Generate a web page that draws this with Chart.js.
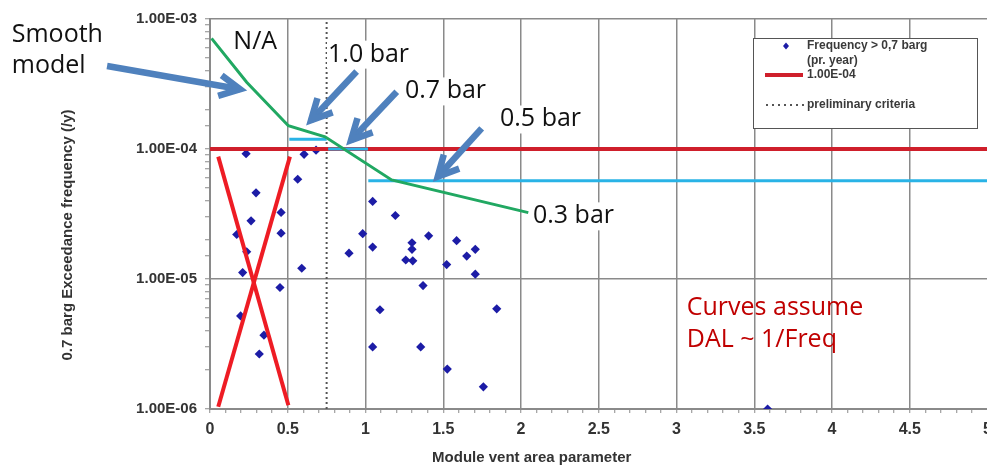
<!DOCTYPE html>
<html><head><meta charset="utf-8">
<script src="https://cdn.jsdelivr.net/npm/chart.js@4.4.1/dist/chart.umd.min.js"></script>
<style>
html,body{margin:0;padding:0;background:#fff;overflow:hidden;width:987px;height:466px}
#wrap{width:1000px;height:466px;overflow:hidden}
canvas{display:block}
</style></head>
<body><div id="wrap"><canvas id="c" width="1000" height="466"></canvas></div>
<script>
// ---------- data ----------
const xTickLabels = ['0','0.5','1','1.5','2','2.5','3','3.5','4','4.5','5'];
const yTickExps   = [-6,-5,-4,-3];
const yTickLabels = ['1.00E-06','1.00E-05','1.00E-04','1.00E-03'];

const freqX = [0.232,0.605,0.682,0.564,0.296,0.457,0.264,0.172,0.457,0.236,0.210,0.590,0.450,0.197,0.347,0.317,
               1.046,1.192,0.982,1.046,0.894,1.299,1.299,1.259,1.304,1.406,1.586,1.651,1.706,1.522,1.706,1.370,
               1.093,1.844,1.046,1.355,1.526,1.758,3.586];
const freqY = [9.2e-5,9.1e-5,9.8e-5,5.85e-5,4.6e-5,3.25e-5,2.8e-5,2.2e-5,2.25e-5,1.62e-5,1.12e-5,1.21e-5,8.6e-6,5.2e-6,3.7e-6,2.65e-6,
               3.95e-5,3.08e-5,2.23e-5,1.76e-5,1.58e-5,1.9e-5,1.69e-5,1.4e-5,1.38e-5,2.15e-5,1.97e-5,1.5e-5,1.69e-5,1.29e-5,1.09e-5,8.9e-6,
               5.8e-6,5.9e-6,3.0e-6,3.0e-6,2.03e-6,1.48e-6,1.0e-6];

const criteriaX = [0,5];
const criteriaY = [1e-4,1e-4];
const prelimX = [0.75,0.75];
const prelimY = [1e-6,1e-3];

const smoothX = [0.01,0.236,0.504,0.74,1.168,2.047];
const smoothY = [7.1e-4,3.26e-4,1.51e-4,1.24e-4,5.78e-5,3.24e-5];

const bar10X = [0.51,0.75];  const bar10Y = [1.19e-4,1.19e-4];
const bar07X = [0.76,1.016]; const bar07Y = [1.0e-4,1.0e-4];
const bar05X = [1.018,5];    const bar05Y = [5.7e-5,5.7e-5];

const naAX = [0.053,0.504]; const naAY = [8.73e-5,1.07e-6];
const naBX = [0.514,0.053]; const naBY = [8.73e-5,1.04e-6];

// annotation anchors (data units)
const noteText  = ['Smooth','model','N/A','1.0 bar','0.7 bar','0.5 bar','0.3 bar'];
const noteX     = [-1.275,-1.275,0.15,0.759,1.254,1.865,2.077];
const noteY     = [6.68e-4,3.82e-4,5.85e-4,4.70e-4,2.45e-4,1.49e-4,2.68e-5];
const noteBoxed = [false,false,false,true,true,true,true];
const redNote   = ['Curves assume','DAL ~ 1/Freq'];
const redNoteX  = [3.066,3.066];
const redNoteY  = [5.28e-6,3.01e-6];
const arrowTailX = [-0.662,0.943,1.201,1.747];
const arrowTailY = [4.35e-4,3.94e-4,2.76e-4,1.44e-4];
const arrowTipX  = [0.219,0.632,0.889,1.447];
const arrowTipY  = [2.85e-4,1.58e-4,1.11e-4,5.8e-5];

// ---------- helpers ----------
const pts = (xs,ys)=>xs.map((x,i)=>({x:x,y:ys[i]}));
const isMajorLog = v => Math.abs(Math.log10(v)-Math.round(Math.log10(v)))<1e-9;
const isHalf = v => Math.abs(v*2-Math.round(v*2))<1e-6;
const GRID='#8a8a8a';
const LABEL='#333';
const FONT='"Liberation Sans", Arial, sans-serif';

const annotPlugin = {
  id:'annot',
  afterDatasetsDraw(chart){
    const {ctx, scales:{x,y}} = chart;
    ctx.save();
    ctx.font = '25px "Open Sans", sans-serif';
    ctx.textBaseline='alphabetic';
    ctx.textAlign='left';
    noteText.forEach((t,i)=>{
      const px=x.getPixelForValue(noteX[i]), py=y.getPixelForValue(noteY[i]);
      if(noteBoxed[i]){
        const w=ctx.measureText(t).width;
        ctx.fillStyle='#fff';
        ctx.fillRect(px-1,py-21,w+4,28);
      }
      ctx.fillStyle='#111';
      ctx.fillText(t,px,py);
    });
    ctx.fillStyle='#c00000';
    redNote.forEach((t,i)=>{
      ctx.fillText(t,x.getPixelForValue(redNoteX[i]),y.getPixelForValue(redNoteY[i]));
    });
    // arrows
    ctx.strokeStyle='#4f81bd';
    ctx.lineWidth=6.5;
    ctx.lineJoin='miter';
    ctx.lineCap='butt';
    arrowTailX.forEach((_,i)=>{
      const x1=x.getPixelForValue(arrowTailX[i]), y1=y.getPixelForValue(arrowTailY[i]);
      const x2=x.getPixelForValue(arrowTipX[i]),  y2=y.getPixelForValue(arrowTipY[i]);
      const a=Math.atan2(y2-y1,x2-x1);
      const tx=x2-4*Math.cos(a), ty=y2-4*Math.sin(a);
      ctx.beginPath(); ctx.moveTo(x1,y1); ctx.lineTo(tx,ty); ctx.stroke();
      const L=23, s=0.47;
      ctx.beginPath();
      ctx.moveTo(tx-L*Math.cos(a-s),ty-L*Math.sin(a-s));
      ctx.lineTo(tx,ty);
      ctx.lineTo(tx-L*Math.cos(a+s),ty-L*Math.sin(a+s));
      ctx.stroke();
    });
    ctx.restore();
  },
  afterDraw(chart){
    const {ctx, chartArea:ca} = chart;
    const ds = chart.data.datasets;
    ctx.save();
    // legend box
    const L=ca.right-234.5, T=ca.top+19, R=ca.right-10.5, B=ca.top+109;
    ctx.fillStyle='#fff'; ctx.fillRect(L,T,R-L,B-T);
    ctx.strokeStyle='#555'; ctx.lineWidth=1; ctx.strokeRect(L+0.5,T+0.5,R-L,B-T);
    ctx.font='bold 12px '+FONT; ctx.fillStyle='#3a3a3a'; ctx.textBaseline='middle'; ctx.textAlign='left';
    const tx=L+54;
    const dx=L+33, dy=T+8;
    ctx.fillStyle=ds[0].backgroundColor;
    ctx.beginPath(); ctx.moveTo(dx,dy-3.5); ctx.lineTo(dx+3,dy); ctx.lineTo(dx,dy+3.5); ctx.lineTo(dx-3,dy); ctx.closePath(); ctx.fill();
    ctx.fillStyle='#3a3a3a';
    ctx.fillText('Frequency > 0,7 barg',tx,T+8);
    ctx.fillText('(pr. year)',tx,T+23);
    ctx.strokeStyle=ds[2].borderColor; ctx.lineWidth=4;
    ctx.beginPath(); ctx.moveTo(L+12,T+37); ctx.lineTo(L+50,T+37); ctx.stroke();
    ctx.fillText('1.00E-04',tx,T+37);
    ctx.strokeStyle=ds[1].borderColor; ctx.lineWidth=2; ctx.setLineDash([2,4]);
    ctx.beginPath(); ctx.moveTo(L+13,T+67); ctx.lineTo(L+51,T+67); ctx.stroke();
    ctx.setLineDash([]);
    ctx.fillText('preliminary criteria',tx,T+67);
    // axis titles
    ctx.fillStyle=LABEL; ctx.font='bold 15px '+FONT; ctx.textAlign='center'; ctx.textBaseline='middle';
    ctx.fillText('Module vent area parameter', ca.left+321.7, ca.bottom+48.5);
    ctx.translate(ca.left-142, ca.top+216);
    ctx.rotate(-Math.PI/2);
    ctx.fillText('0.7 barg Exceedance frequency (/y)',0,0);
    ctx.restore();
  }
};

const lineDS = (label,xs,ys,color,width,order,extra)=>Object.assign({
  label, data:pts(xs,ys), showLine:true, borderColor:color, backgroundColor:color,
  borderWidth:width, pointRadius:0, fill:false, order, tension:0
}, extra||{});

new Chart(document.getElementById('c'),{
  type:'scatter',
  data:{datasets:[
    {label:'Frequency > 0,7 barg (pr. year)', data:pts(freqX,freqY), pointStyle:'rectRot', pointRadius:4.6,
     backgroundColor:'#1c1ca6', borderColor:'#1c1ca6', borderWidth:0, order:6},
    lineDS('preliminary criteria',prelimX,prelimY,'#555',2,7,{borderDash:[2,3]}),
    lineDS('1.00E-04',criteriaX,criteriaY,'#cf1f2b',4,4),
    lineDS('N/A a',naAX,naAY,'#ee1c24',4,5),
    lineDS('N/A b',naBX,naBY,'#ee1c24',4,5),
    lineDS('1.0 bar',bar10X,bar10Y,'#29b3e6',3,3),
    lineDS('0.7 bar',bar07X,bar07Y,'#29b3e6',3,3),
    lineDS('0.5 bar',bar05X,bar05Y,'#29b3e6',3,3),
    lineDS('Smooth model',smoothX,smoothY,'#21a862',3,2)
  ]},
  options:{
    responsive:false, animation:false,
    layout:{padding:{left:0,right:12.5,top:19,bottom:0}},
    plugins:{legend:{display:false},tooltip:{enabled:false}},
    scales:{
      x:{type:'linear',min:0,max:5,
        afterFit:s=>{s.height=57;},
        border:{display:true,color:GRID,width:2},
        grid:{color:c=>isHalf(c.tick.value)?GRID:'rgba(0,0,0,0)',lineWidth:1.5,tickColor:GRID,tickWidth:1,tickLength:4},
        ticks:{stepSize:0.1,autoSkip:false,maxRotation:0,padding:7,color:LABEL,font:{family:FONT,size:16,weight:'bold'},
          callback:v=>isHalf(v)?xTickLabels[Math.round(v*2)]:''}
      },
      y:{type:'logarithmic',min:1e-6,max:1e-3,
        afterFit:s=>{s.width=210;},
        border:{display:true,color:GRID,width:2},
        grid:{color:c=>isMajorLog(c.tick.value)?GRID:'rgba(0,0,0,0)',lineWidth:1.5,tickColor:GRID,tickWidth:1,tickLength:5},
        ticks:{autoSkip:false,padding:8,color:LABEL,font:{family:FONT,size:15,weight:'bold'},
          callback:v=>{const i=yTickExps.indexOf(Math.round(Math.log10(v)));return (isMajorLog(v)&&i>=0)?yTickLabels[i]:'';}}
      }
    }
  },
  plugins:[annotPlugin]
});
</script></body></html>
